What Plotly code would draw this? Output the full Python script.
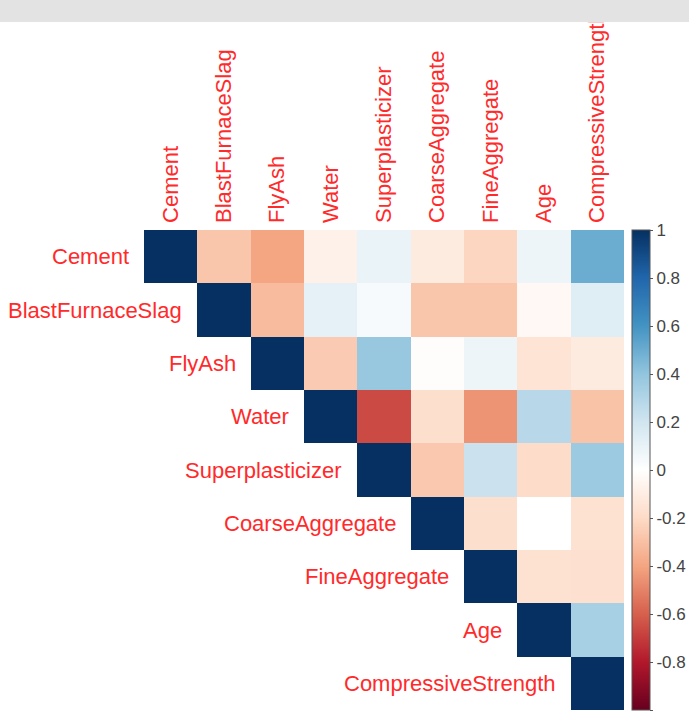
import plotly.graph_objects as go

variables = ["Cement", "BlastFurnaceSlag", "FlyAsh", "Water", "Superplasticizer",
             "CoarseAggregate", "FineAggregate", "Age", "CompressiveStrength"]

# upper-triangle correlations (row by row, starting at the diagonal)
r_cement = [1.00, -0.28, -0.40, -0.08, 0.09, -0.11, -0.22, 0.08, 0.50]
r_slag = [1.00, -0.32, 0.11, 0.04, -0.28, -0.28, -0.04, 0.14]
r_flyash = [1.00, -0.26, 0.38, -0.01, 0.08, -0.15, -0.11]
r_water = [1.00, -0.66, -0.18, -0.45, 0.28, -0.29]
r_super = [1.00, -0.27, 0.22, -0.19, 0.37]
r_coarse = [1.00, -0.18, -0.00, -0.16]
r_fine = [1.00, -0.16, -0.17]
r_age = [1.00, 0.33]
r_cs = [1.00]
rows = [r_cement, r_slag, r_flyash, r_water, r_super, r_coarse, r_fine, r_age, r_cs]

cb_ticks = [1, 0.8, 0.6, 0.4, 0.2, 0, -0.2, -0.4, -0.6, -0.8, -1]
cb_labels = ["1", "0.8", "0.6", "0.4", "0.2", "0", "-0.2", "-0.4", "-0.6", "-0.8", "-1"]

n = len(variables)
z = []
for i, row in enumerate(rows):
    z.append([None] * i + row)

palette = ["#67001F", "#B2182B", "#D6604D", "#F4A582", "#FDDBC7", "#FFFFFF",
           "#D1E5F0", "#92C5DE", "#4393C3", "#2166AC", "#053061"]
colorscale = [[k / (len(palette) - 1), c] for k, c in enumerate(palette)]

FONT = "Liberation Sans, Arial, sans-serif"
RED = "#FF2A2A"

fig = go.Figure(go.Heatmap(
    z=z, x=list(range(n)), y=list(range(n)),
    colorscale=colorscale, zmin=-1, zmax=1,
    hoverongaps=False,
    colorbar=dict(
        x=1.0167, xanchor="left", xref="paper",
        y=0.5, yanchor="middle", len=1.0, lenmode="fraction",
        thickness=18, outlinewidth=1, outlinecolor="#555555",
        tickmode="array", tickvals=cb_ticks, ticktext=cb_labels,
        ticks="outside", ticklen=3, tickcolor="#555555",
        tickfont=dict(family=FONT, size=17, color="#444444"),
        ypad=0, xpad=0,
    ),
))

for i, name in enumerate(variables):
    fig.add_annotation(
        x=i - 0.5, y=i, xref="x", yref="y", text=name, showarrow=False,
        xanchor="right", yanchor="middle", xshift=-13,
        font=dict(family=FONT, size=22, color=RED),
    )

fig.update_xaxes(
    side="top", tickmode="array", tickvals=list(range(n)), ticktext=variables,
    tickangle=-90, tickfont=dict(family=FONT, size=22, color=RED),
    showgrid=False, zeroline=False, showline=False, ticks="",
    range=[-0.5, n - 0.5], ticklabelstandoff=6,
)
fig.update_yaxes(
    autorange=False, range=[n - 0.5, -0.5], showticklabels=False,
    showgrid=False, zeroline=False, showline=False, ticks="",
)

# grey strip at the top of the screenshot
fig.add_shape(type="rect", xref="paper", yref="paper",
              x0=-0.5, x1=1.3, y0=1 + 208 / 480, y1=1 + 240 / 480,
              fillcolor="#e3e3e3", line=dict(width=0), layer="above")

fig.update_layout(
    width=689, height=718,
    margin=dict(l=144, r=65, t=230, b=8, autoexpand=False),
    paper_bgcolor="white", plot_bgcolor="white",
    showlegend=False,
)

fig.write_html("out.html", config={"displayModeBar": False},
               post_script="document.body.style.margin='0px';")
